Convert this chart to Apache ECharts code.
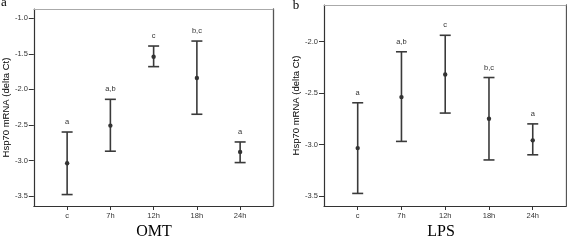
<!DOCTYPE html>
<html>
<head>
<meta charset="utf-8">
<script src="https://cdn.jsdelivr.net/npm/echarts@6/dist/echarts.min.js"></script>
<style>
  html, body { margin: 0; padding: 0; background: #fff; }
  #chart { width: 567px; height: 242px; }
</style>
</head>
<body>
<div id="chart"></div>
<script>
  // 数据
  const categories = ['c', '7h', '12h', '18h', '24h'];
  const omtMean = [-3.04, -2.51, -1.54, -1.84, -2.88];
  const omtLow = [-3.48, -2.87, -1.68, -2.35, -3.03];
  const omtHigh = [-2.60, -2.14, -1.39, -1.32, -2.74];
  const omtLetters = ['a', 'a,b', 'c', 'b,c', 'a'];
  const lpsMean = [-3.035, -2.54, -2.32, -2.75, -2.96];
  const lpsLow = [-3.475, -2.97, -2.695, -3.15, -3.10];
  const lpsHigh = [-2.595, -2.10, -1.94, -2.35, -2.80];
  const lpsLetters = ['a', 'a,b', 'c', 'b,c', 'a'];
  const omtTicks = [-3.5, -3.0, -2.5, -2.0, -1.5, -1.0];
  const lpsTicks = [-3.5, -3.0, -2.5, -2.0];
  const catTicks = [0, 1, 2, 3, 4];

  const axisColor = '#333';
  const labelFont = { fontFamily: 'Liberation Sans, Arial', fontSize: 7.5, color: '#333' };

  function rows(mean, low, high) {
    return mean.map((m, i) => [i, m, low[i], high[i]]);
  }

  // 误差线 + 均值点 + 显著性字母
  function errorBar(letters) {
    return function (params, api) {
      const x = api.value(0);
      const p = api.coord([x, api.value(1)]);
      const lo = api.coord([x, api.value(2)]);
      const hi = api.coord([x, api.value(3)]);
      const hw = 5.5;
      const lineStyle = { stroke: '#3a3a3a', lineWidth: 1.6 };
      return {
        type: 'group',
        children: [
          { type: 'line', shape: { x1: hi[0], y1: hi[1], x2: lo[0], y2: lo[1] }, style: lineStyle },
          { type: 'line', shape: { x1: hi[0] - hw, y1: hi[1], x2: hi[0] + hw, y2: hi[1] }, style: lineStyle },
          { type: 'line', shape: { x1: lo[0] - hw, y1: lo[1], x2: lo[0] + hw, y2: lo[1] }, style: lineStyle },
          { type: 'circle', shape: { cx: p[0], cy: p[1], r: 2.2 }, style: { fill: '#333' } },
          {
            type: 'text', x: hi[0], y: hi[1] - 10,
            style: {
              text: letters[params.dataIndex], align: 'center', verticalAlign: 'middle',
              font: '7.5px "Liberation Sans", Arial', fill: '#333'
            }
          }
        ]
      };
    };
  }

  function xAxes(gridIndex) {
    return [
      {
        gridIndex: gridIndex, type: 'value', min: -0.77, max: 4.76,
        splitLine: { show: false },
        axisLine: { onZero: false, lineStyle: { color: axisColor, width: 1.2 } },
        axisTick: { length: 4, lineStyle: { color: axisColor }, customValues: catTicks },
        axisLabel: Object.assign({
          margin: 6, customValues: catTicks,
          formatter: v => categories[Math.round(v)]
        }, labelFont)
      },
      {
        gridIndex: gridIndex, type: 'value', position: 'top', min: -0.77, max: 4.76,
        splitLine: { show: false }, axisTick: { show: false }, axisLabel: { show: false },
        axisLine: { show: true, onZero: false, lineStyle: { color: '#aaa', width: 1 } }
      }
    ];
  }

  function yAxes(gridIndex, min, max, ticks) {
    return [
      {
        gridIndex: gridIndex, type: 'value', min: min, max: max,
        name: 'Hsp70 mRNA (delta Ct)', nameLocation: 'middle', nameGap: 21,
        nameTextStyle: { fontFamily: 'Liberation Sans, Arial', fontSize: 9.5, color: '#000' },
        splitLine: { show: false },
        axisLine: { show: true, onZero: false, lineStyle: { color: axisColor, width: 1.2 } },
        axisTick: { show: true, length: 5, lineStyle: { color: axisColor }, customValues: ticks },
        axisLabel: Object.assign({
          margin: 6, customValues: ticks,
          formatter: v => v.toFixed(1)
        }, labelFont)
      },
      {
        gridIndex: gridIndex, type: 'value', position: 'right', min: min, max: max,
        splitLine: { show: false }, axisTick: { show: false }, axisLabel: { show: false },
        axisLine: { show: true, onZero: false, lineStyle: { color: '#555', width: 1.3 } }
      }
    ];
  }

  const chart = echarts.init(document.getElementById('chart'), null, { renderer: 'canvas' });
  chart.setOption({
    animation: false,
    backgroundColor: '#fff',
    grid: [
      { left: 30, top: 9, width: 243, height: 197 },
      { left: 324, top: 5, width: 242, height: 201 }
    ],
    xAxis: xAxes(0).concat(xAxes(1)),
    yAxis: yAxes(0, -3.641, -0.869, omtTicks).concat(yAxes(1, -3.597, -1.646, lpsTicks)),
    graphic: [
      { type: 'text', x: 4, y: 3, style: { text: 'a', font: '13px "Liberation Serif", "Times New Roman"', fill: '#000', align: 'center', verticalAlign: 'middle' } },
      { type: 'text', x: 296, y: 6, style: { text: 'b', font: '13px "Liberation Serif", "Times New Roman"', fill: '#000', align: 'center', verticalAlign: 'middle' } },
      { type: 'text', x: 154, y: 232, style: { text: 'OMT', font: '16px "Liberation Serif", "Times New Roman"', fill: '#000', align: 'center', verticalAlign: 'middle' } },
      { type: 'text', x: 441, y: 232, style: { text: 'LPS', font: '16px "Liberation Serif", "Times New Roman"', fill: '#000', align: 'center', verticalAlign: 'middle' } }
    ],
    series: [
      {
        type: 'custom', xAxisIndex: 0, yAxisIndex: 0,
        renderItem: errorBar(omtLetters),
        data: rows(omtMean, omtLow, omtHigh)
      },
      {
        type: 'custom', xAxisIndex: 2, yAxisIndex: 2,
        renderItem: errorBar(lpsLetters),
        data: rows(lpsMean, lpsLow, lpsHigh)
      }
    ]
  });
</script>
</body>
</html>
